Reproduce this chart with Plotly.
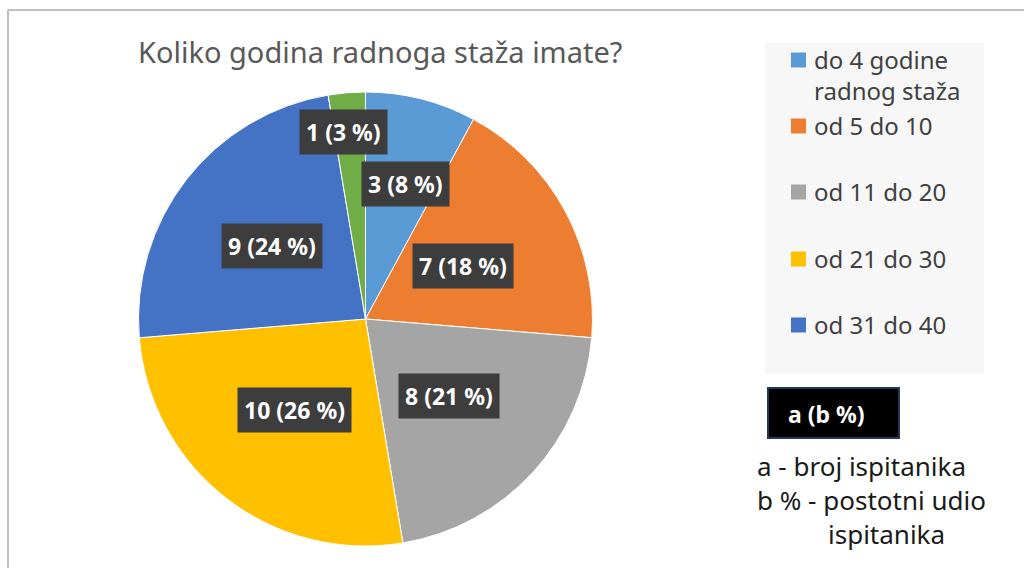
import math
import plotly.graph_objects as go

# ---- data ----
categories = ["do 4 godine radnog staža", "od 5 do 10", "od 11 do 20",
              "od 21 do 30", "od 31 do 40", "od 41 i više"]
legend_labels = ["do 4 godine<br>radnog staža", "od 5 do 10", "od 11 do 20",
                 "od 21 do 30", "od 31 do 40"]
counts = [3, 7, 8, 10, 9, 1]
colors = ["#5B9BD5", "#ED7D31", "#A5A5A5", "#FFC000", "#4472C4", "#70AD47"]
title_text = "Koliko godina radnoga staža imate?"

# ---- style / layout helpers ----
W, H = 1024, 568
CX, CY, R = 365.5, 319.0, 227.0
label_radius_frac = [0.62, 0.49, 0.50, 0.51, 0.52, 0.83]
label_angle_shift = [2.5, 0, 0, 0, 0, -2.0]  # degrees
FONT = "Noto Sans"


def px(x):
    return x / W


def py(y):
    return 1 - y / H


def ann(x, y, text, size, color, xanchor="center", yanchor="middle", **kw):
    d = dict(x=px(x), y=py(y), xref="paper", yref="paper", text=text,
             showarrow=False, xanchor=xanchor, yanchor=yanchor,
             font=dict(family=FONT, size=size, color=color))
    d.update(kw)
    return d


fig = go.Figure()
fig.add_trace(go.Pie(
    labels=categories, values=counts, sort=False, direction="clockwise",
    rotation=0, textinfo="none", showlegend=False,
    marker=dict(colors=colors, line=dict(color="white", width=1)),
    domain=dict(x=[px(CX - R), px(CX + R)], y=[py(CY + R), py(CY - R)]),
))

annotations = []
shapes = []

# data labels with dark boxes
total = sum(counts)
cum = 0
for v, frac, sh in zip(counts, label_radius_frac, label_angle_shift):
    mid = (cum + v / 2) / total * 2 * math.pi + math.radians(sh)
    cum += v
    r = R * frac
    lx = CX + r * math.sin(mid)
    ly = CY - r * math.cos(mid)
    pct = round(v / total * 100)
    txt = f"<b>{v} ({pct} %)</b>"
    annotations.append(ann(lx, ly, txt, 23, "white",
                           bgcolor="#3D3D3D", borderpad=6))

# title
annotations.append(ann(380, 52, title_text, 29, "#595959"))

# outer frame
shapes.append(dict(type="line", xref="paper", yref="paper",
                   x0=px(8), x1=1.01, y0=py(10), y1=py(10),
                   line=dict(color="#BFBFBF", width=2)))
shapes.append(dict(type="line", xref="paper", yref="paper",
                   x0=px(8), x1=px(8), y0=py(10), y1=-0.01,
                   line=dict(color="#BFBFBF", width=2)))

# legend box
shapes.append(dict(type="rect", xref="paper", yref="paper",
                   x0=px(765), x1=px(984), y0=py(374), y1=py(43),
                   fillcolor="#F7F7F7", line=dict(width=0), layer="below"))
leg_y = [60, 126, 192, 259, 325]
for lab, col, yy in zip(legend_labels, colors, leg_y):
    shapes.append(dict(type="rect", xref="paper", yref="paper",
                       x0=px(791), x1=px(806), y0=py(yy + 7.5), y1=py(yy - 7.5),
                       fillcolor=col, line=dict(width=0)))
    annotations.append(ann(812, yy - 19, lab, 24, "#404040",
                           xanchor="left", yanchor="top", align="left"))

# key box
shapes.append(dict(type="rect", xref="paper", yref="paper",
                   x0=px(768), x1=px(899), y0=py(438), y1=py(388),
                   fillcolor="black", line=dict(color="#1F3B57", width=2)))
annotations.append(ann(826, 414, "<b>a (b %)</b>", 23, "white"))

key_lines = [("a - broj ispitanika", 755, 466),
             ("b % - postotni udio", 755, 500),
             ("ispitanika", 826, 534)]
for t, xx, yy in key_lines:
    annotations.append(ann(xx, yy, t, 26, "#1A1A1A", xanchor="left"))

fig.update_layout(
    width=W, height=H, margin=dict(l=0, r=0, t=0, b=0),
    paper_bgcolor="white", plot_bgcolor="white",
    annotations=annotations, shapes=shapes, showlegend=False,
)
fig.write_html("out.html", config={"displayModeBar": False},
               post_script="document.body.style.margin='0px';")
